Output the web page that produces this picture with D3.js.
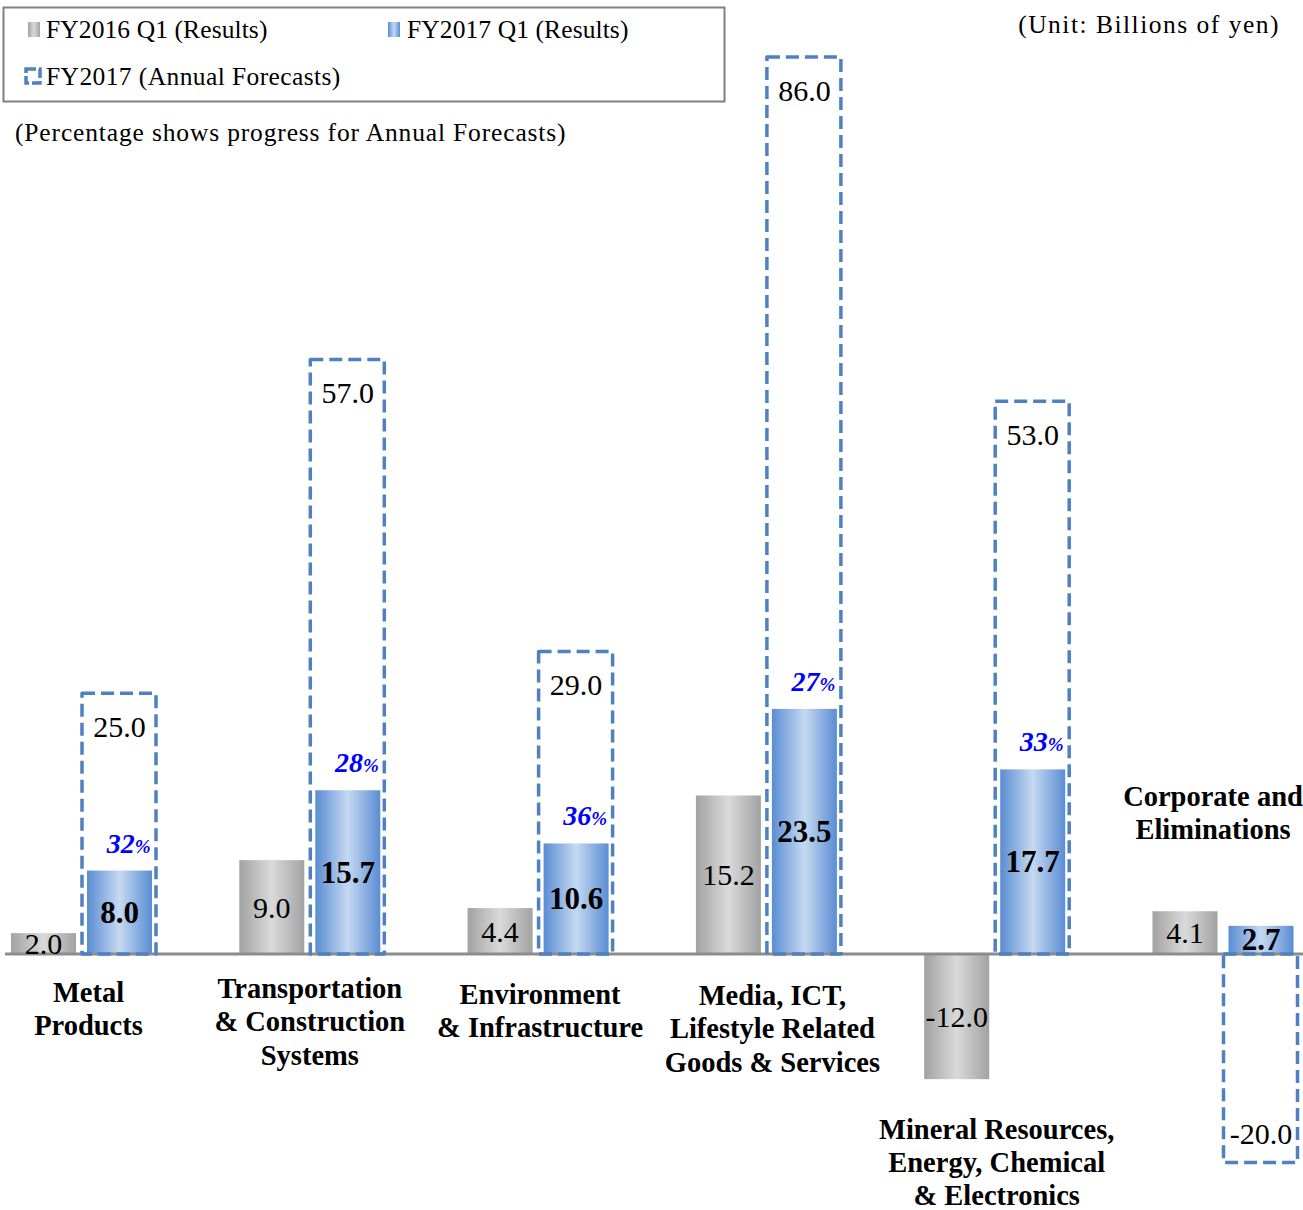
<!DOCTYPE html>
<html>
<head>
<meta charset="utf-8">
<script src="https://cdn.jsdelivr.net/npm/d3@7"></script>
<style>
  html, body { margin: 0; padding: 0; background: #fff; }
  svg { display: block; font-family: "Liberation Serif", "Times New Roman", serif; }
</style>
</head>
<body>
<svg id="chart" width="1303" height="1210"></svg>
<script>
// Segment names (each line of a label is a separate entry)
const categories = [
  ["Metal", "Products"],
  ["Transportation", "& Construction", "Systems"],
  ["Environment", "& Infrastructure"],
  ["Media, ICT,", "Lifestyle Related", "Goods & Services"],
  ["Mineral Resources,", "Energy, Chemical", "& Electronics"],
  ["Corporate and", "Eliminations"]
];
const categoryKeys = ["metal", "transport", "environment", "media", "mineral", "corporate"];

// Billions of yen
const fy2016Q1 = [2.0, 9.0, 4.4, 15.2, -12.0, 4.1];
const fy2017Q1 = [8.0, 15.7, 10.6, 23.5, 17.7, 2.7];
const fy2017Forecast = [25.0, 57.0, 29.0, 86.0, 53.0, -20.0];
// Progress against annual forecast (%)
const progress = [32, 28, 36, 27, 33, null];

const legendLabels = ["FY2016 Q1 (Results)", "FY2017 Q1 (Results)", "FY2017 (Annual Forecasts)"];

// Layout for the multi-line segment labels: x shift, first-line y, line step
const labelLayout = [
  { dx: 7, y: 992, step: 33.5 },
  { dx: 0, y: 988, step: 33.5 },
  { dx: 2, y: 994, step: 33.5 },
  { dx: 6, y: 995, step: 33.5 },
  { dx: 2, y: 1129, step: 33 },
  { dx: -10, y: 796, step: 33.5 }
];

const svg = d3.select("#chart");
const defs = svg.append("defs");

function hGradient(id, edge, mid) {
  const g = defs.append("linearGradient").attr("id", id)
    .attr("x1", "0%").attr("x2", "100%").attr("y1", "0%").attr("y2", "0%");
  g.append("stop").attr("offset", "0%").attr("stop-color", edge);
  g.append("stop").attr("offset", "50%").attr("stop-color", mid);
  g.append("stop").attr("offset", "100%").attr("stop-color", edge);
}
hGradient("grayGrad", "#a2a2a2", "#dadada");
hGradient("blueGrad", "#5a8dd3", "#c6d9f1");

const x = d3.scalePoint().domain(categoryKeys).range([81.5, 1223]);
const y = d3.scaleLinear().domain([-20, 86]).range([1162.6, 57]);

const barW = 65;
const offset = 5.5;
const boxL = 0.5, boxW = 74;
const dashColor = "#4f81c2";

const rows = categoryKeys.map((k, i) => ({
  key: k, name: categories[i], prev: fy2016Q1[i], cur: fy2017Q1[i],
  fc: fy2017Forecast[i], pct: progress[i], layout: labelLayout[i]
}));

// FY2016 Q1 bars
svg.append("g").selectAll("rect").data(rows).join("rect")
  .attr("x", d => x(d.key) - offset - barW)
  .attr("width", barW)
  .attr("y", d => y(Math.max(0, d.prev)))
  .attr("height", d => Math.abs(y(d.prev) - y(0)))
  .attr("fill", "url(#grayGrad)");

// FY2017 Q1 bars
svg.append("g").selectAll("rect").data(rows).join("rect")
  .attr("x", d => x(d.key) + offset)
  .attr("width", barW)
  .attr("y", d => y(Math.max(0, d.cur)))
  .attr("height", d => Math.abs(y(d.cur) - y(0)))
  .attr("fill", "url(#blueGrad)");

// Zero line
svg.append("line")
  .attr("x1", 5).attr("x2", 1303)
  .attr("y1", y(0)).attr("y2", y(0))
  .attr("stroke", "#8c8c8c").attr("stroke-width", 3);

// Annual forecast dashed outlines
svg.append("g").selectAll("rect").data(rows).join("rect")
  .attr("x", d => x(d.key) + boxL)
  .attr("width", boxW)
  .attr("y", d => y(Math.max(0, d.fc)))
  .attr("height", d => Math.abs(y(d.fc) - y(0)))
  .attr("fill", "none")
  .attr("stroke", dashColor)
  .attr("stroke-width", 3.5)
  .attr("stroke-dasharray", "13 6")
  .attr("stroke-linejoin", "round");

// One decimal place, plain hyphen for negatives
const fmt = v => v.toFixed(1);

// FY2016 Q1 value labels
svg.append("g").selectAll("text").data(rows).join("text")
  .attr("x", d => x(d.key) - offset - barW / 2)
  .attr("y", d => (y(d.prev) + y(0)) / 2)
  .attr("text-anchor", "middle")
  .attr("dominant-baseline", "central")
  .attr("font-size", 30)
  .attr("fill", "#000")
  .text(d => fmt(d.prev));

// FY2017 Q1 value labels
svg.append("g").selectAll("text").data(rows).join("text")
  .attr("x", d => x(d.key) + offset + barW / 2)
  .attr("y", d => (y(d.cur) + y(0)) / 2)
  .attr("text-anchor", "middle")
  .attr("dominant-baseline", "central")
  .attr("font-size", 31)
  .attr("font-weight", "bold")
  .attr("fill", "#000")
  .text(d => fmt(d.cur));

// Forecast value labels
svg.append("g").selectAll("text").data(rows).join("text")
  .attr("x", d => x(d.key) + offset + barW / 2)
  .attr("y", d => d.fc >= 0 ? y(d.fc) + 33 : y(d.fc) - 29)
  .attr("text-anchor", "middle")
  .attr("dominant-baseline", "central")
  .attr("font-size", 30)
  .attr("fill", "#000")
  .text(d => fmt(d.fc));

// Progress percentages
const pct = svg.append("g").selectAll("text").data(rows.filter(d => d.pct != null)).join("text")
  .attr("x", d => x(d.key) + 69)
  .attr("y", d => y(d.cur) - 18)
  .attr("text-anchor", "end")
  .attr("font-style", "italic")
  .attr("font-weight", "bold")
  .attr("fill", "#0000ff");
pct.append("tspan").attr("font-size", 28).text(d => d.pct);
pct.append("tspan").attr("font-size", 19).text("%");

// Segment labels
const catG = svg.append("g").selectAll("text").data(rows).join("text")
  .attr("text-anchor", "middle")
  .attr("font-size", 28.5)
  .attr("font-weight", "bold")
  .attr("fill", "#000");
catG.selectAll("tspan").data(d => d.name.map((line, j) => ({ line, j, d }))).join("tspan")
  .attr("x", t => x(t.d.key) + t.d.layout.dx)
  .attr("y", t => t.d.layout.y + t.j * t.d.layout.step)
  .attr("dominant-baseline", "central")
  .text(t => t.line);

// Legend
const legend = svg.append("g");
legend.append("rect")
  .attr("x", 3.5).attr("y", 7.5).attr("width", 721).attr("height", 94)
  .attr("fill", "#fff").attr("stroke", "#808080").attr("stroke-width", 2);
legend.append("rect").attr("x", 28).attr("y", 22).attr("width", 12).attr("height", 15)
  .attr("fill", "url(#grayGrad)");
legend.append("rect").attr("x", 388).attr("y", 22).attr("width", 12).attr("height", 15)
  .attr("fill", "url(#blueGrad)");
legend.append("rect").attr("x", 26).attr("y", 69).attr("width", 14).attr("height", 14)
  .attr("fill", "none").attr("stroke", dashColor).attr("stroke-width", 3.5)
  .attr("stroke-dasharray", "10 3");
const legendPos = [[46, 38], [407, 38], [46, 85]];
legend.selectAll("text").data(legendLabels).join("text")
  .attr("x", (d, i) => legendPos[i][0])
  .attr("y", (d, i) => legendPos[i][1])
  .attr("font-size", 25.5)
  .attr("letter-spacing", (d, i) => i === 2 ? 0.4 : 0.1)
  .attr("fill", "#000")
  .text(d => d);

svg.append("text")
  .attr("x", 15).attr("y", 141)
  .attr("font-size", 25.5).attr("fill", "#000")
  .attr("letter-spacing", 0.85)
  .text("(Percentage shows progress for Annual Forecasts)");

svg.append("text")
  .attr("x", 1280).attr("y", 33)
  .attr("text-anchor", "end")
  .attr("font-size", 25.5).attr("fill", "#000")
  .attr("letter-spacing", 1.5)
  .text("(Unit: Billions of yen)");
</script>
</body>
</html>
